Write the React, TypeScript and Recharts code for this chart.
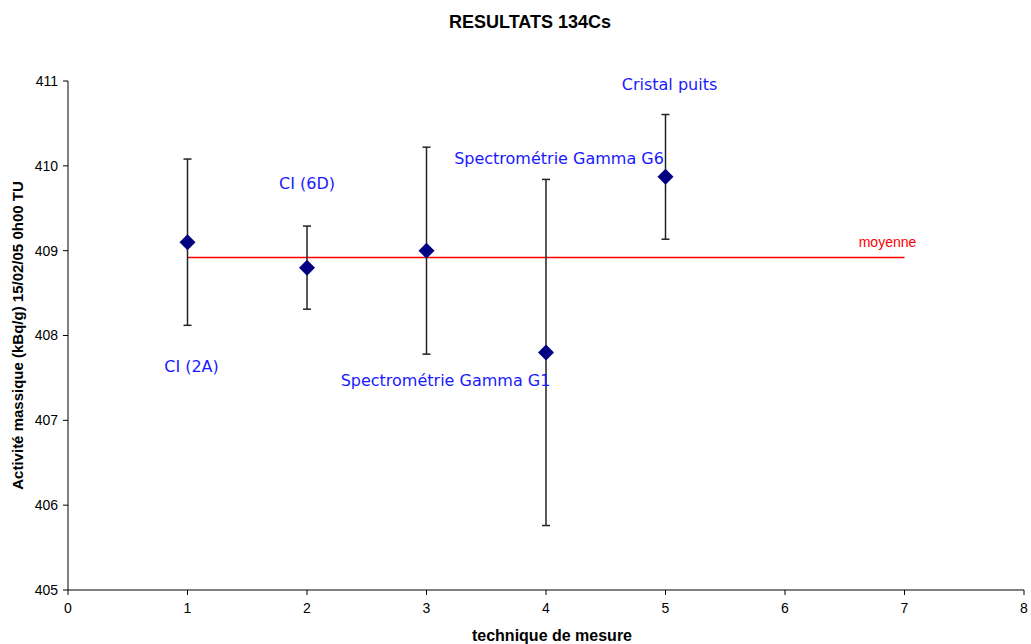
import React from "react";
import {
  ComposedChart,
  ErrorBar,
  LabelList,
  ReferenceLine,
  Scatter,
  XAxis,
  YAxis,
} from "recharts";

const techniques = [1, 2, 3, 4, 5];
const activites = [409.1, 408.8, 409.0, 407.8, 409.87];
const incertitudes = [0.98, 0.49, 1.22, 2.04, 0.735];
const methodes = [
  "CI (2A)",
  "CI (6D)",
  "Spectrométrie Gamma G1",
  "Spectrométrie Gamma G6",
  "Cristal puits",
];
const moyenne = 408.92;
const xTicks = [0, 1, 2, 3, 4, 5, 6, 7, 8];
const yTicks = [405, 406, 407, 408, 409, 410, 411];

// position des étiquettes (px) par rapport au point, comme dans le graphique Excel
const LABEL_OFFSETS: [number, number][] = [
  [4, 124],
  [0, -84],
  [19, 130],
  [13, -194],
  [4, -92],
];

const AXIS_FONT = "'Liberation Sans', Arial, sans-serif";
const LABEL_FONT = "'Comic Sans MS', 'DejaVu Sans', sans-serif";

const rows = techniques.map((x, i) => ({
  x,
  y: activites[i],
  err: incertitudes[i],
  name: methodes[i],
}));

function Diamond(props: any) {
  const { cx, cy } = props;
  const r = 8;
  return (
    <polygon
      points={`${cx},${cy - r} ${cx + r},${cy} ${cx},${cy + r} ${cx - r},${cy}`}
      fill="#000080"
    />
  );
}

function PointLabel(props: any) {
  const { x, y, width, height, value } = props;
  const i = methodes.indexOf(value);
  const [dx, dy] = LABEL_OFFSETS[i] ?? [0, 0];
  const cx = x + (width ?? 0) / 2;
  const cy = y + (height ?? 0) / 2;
  return (
    <text
      x={cx + dx}
      y={cy + dy}
      textAnchor="middle"
      dominantBaseline="central"
      fill="#1a1aff"
      fontSize={16}
      fontFamily={LABEL_FONT}
    >
      {value}
    </text>
  );
}

export default function App() {
  return (
    <div
      style={{
        position: "absolute",
        left: 0,
        top: 0,
        width: 1031,
        height: 644,
        background: "#fff",
        fontFamily: AXIS_FONT,
      }}
    >
      <div
        style={{
          position: "absolute",
          left: 330,
          top: 11,
          width: 400,
          textAlign: "center",
          fontSize: 18,
          fontWeight: "bold",
          lineHeight: "22px",
        }}
      >
        RESULTATS 134Cs
      </div>
      <ComposedChart
        width={1031}
        height={644}
        margin={{ top: 81, right: 7, bottom: 0, left: 8 }}
      >
        <XAxis
          type="number"
          dataKey="x"
          domain={[0, 8]}
          ticks={xTicks}
          interval={0}
          height={54}
          axisLine={{ stroke: "#000" }}
          tickLine={{ stroke: "#000" }}
          tickSize={5}
          tickMargin={8}
          tick={{ fontSize: 14, fill: "#000", fontFamily: AXIS_FONT }}
          label={{
            content: ({ viewBox }: any) => (
              <text
                x={552}
                y={viewBox.y + 45}
                textAnchor="middle"
                dominantBaseline="central"
                fontSize={16}
                fontWeight="bold"
                fontFamily={AXIS_FONT}
                fill="#000"
              >
                technique de mesure
              </text>
            ),
          }}
        />
        <YAxis
          type="number"
          dataKey="y"
          domain={[405, 411]}
          ticks={yTicks}
          interval={0}
          width={60}
          axisLine={{ stroke: "#000" }}
          tickLine={{ stroke: "#000" }}
          tickSize={5}
          tickMargin={5}
          tick={{ fontSize: 14, fill: "#000", fontFamily: AXIS_FONT }}
          label={{
            content: ({ viewBox }: any) => {
              const lx = viewBox.x + 9;
              const ly = viewBox.y + viewBox.height / 2;
              return (
                <text
                  x={lx}
                  y={ly}
                  transform={`rotate(-90, ${lx}, ${ly})`}
                  textAnchor="middle"
                  dominantBaseline="central"
                  fontSize={15}
                  fontWeight="bold"
                  fontFamily={AXIS_FONT}
                  fill="#000"
                >
                  Activité massique (kBq/g) 15/02/05 0h00 TU
                </text>
              );
            },
          }}
        />
        <ReferenceLine
          segment={[
            { x: 1, y: moyenne },
            { x: 7, y: moyenne },
          ]}
          stroke="#ff0000"
          strokeWidth={1.5}
          label={{
            content: ({ viewBox }: any) => (
              <text
                x={viewBox.x + viewBox.width - 17}
                y={viewBox.y - 15}
                textAnchor="middle"
                dominantBaseline="central"
                fontSize={14}
                fontFamily={AXIS_FONT}
                fill="#ff0000"
              >
                moyenne
              </text>
            ),
          }}
        />
        <Scatter data={rows} shape={<Diamond />} isAnimationActive={false}>
          <ErrorBar
            dataKey="err"
            direction="y"
            width={4}
            stroke="#222"
            strokeWidth={1.5}
            isAnimationActive={false}
          />
          <LabelList dataKey="name" content={<PointLabel />} />
        </Scatter>
      </ComposedChart>
    </div>
  );
}
